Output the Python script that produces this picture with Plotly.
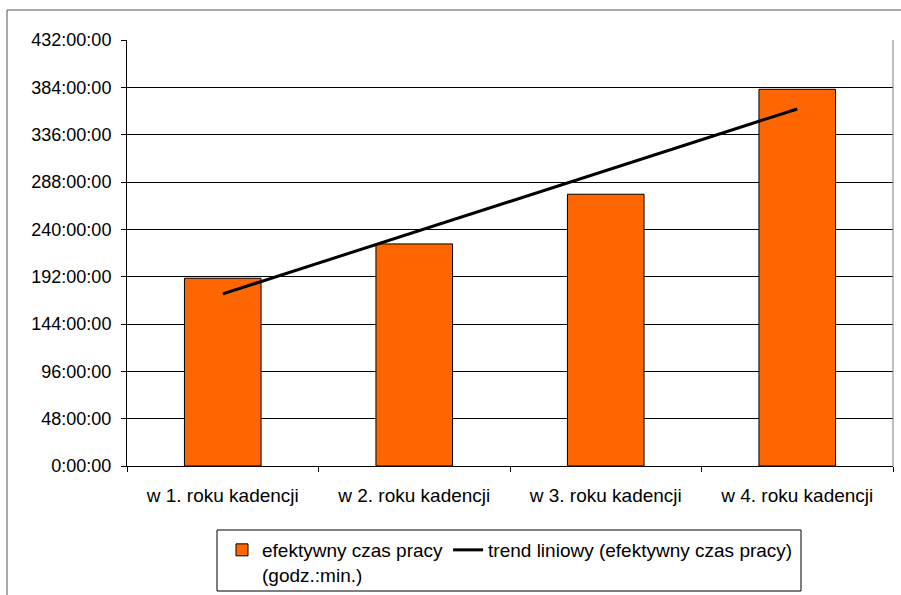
import numpy as np
import plotly.graph_objects as go

categories = ["w 1. roku kadencji", "w 2. roku kadencji", "w 3. roku kadencji", "w 4. roku kadencji"]
hours = [190.4, 225.2, 275.6, 382.0]  # efektywny czas pracy, in hours
tick_hours = [0, 48, 96, 144, 192, 240, 288, 336, 384, 432]
tick_labels = ["0:00:00", "48:00:00", "96:00:00", "144:00:00", "192:00:00",
               "240:00:00", "288:00:00", "336:00:00", "384:00:00", "432:00:00"]

# linear trend (Excel "trend liniowy")
xi = np.arange(1, len(hours) + 1)
slope, intercept = np.polyfit(xi, hours, 1)
trend = list(slope * xi + intercept)

W, H = 901, 595
L, R, T, B = 127, 893, 40, 466
pw, ph = R - L, B - T

def px(x):
    return (x - L) / pw

def py(y):
    return (B - y) / ph

FONT = "Liberation Sans, Arial, sans-serif"

fig = go.Figure()
fig.add_trace(go.Bar(
    x=categories, y=hours,
    name="efektywny czas pracy<br>(godz.:min.)",
    marker=dict(color="#FF6600", line=dict(color="#000000", width=1)),
))
fig.add_trace(go.Scatter(
    x=categories, y=trend, mode="lines",
    name="trend liniowy (efektywny czas pracy)",
    line=dict(color="#000000", width=3),
))

fig.update_layout(
    width=W, height=H,
    margin=dict(l=L, r=W - R, t=T, b=H - B, pad=0, autoexpand=False),
    paper_bgcolor="white", plot_bgcolor="white",
    font=dict(family=FONT, size=19, color="#000000"),
    bargap=0.6,
    showlegend=True,
    legend=dict(
        orientation="h", xref="container", yref="container",
        x=222 / W, y=1 - 531 / H, xanchor="left", yanchor="top",
        borderwidth=0, bgcolor="rgba(0,0,0,0)",
        font=dict(family=FONT, size=19, color="#000000"),
        valign="top", traceorder="normal",
    ),
    xaxis=dict(
        type="category", showgrid=False, showline=True, linecolor="#000000", linewidth=1,
        ticks="outside", tickson="boundaries", ticklen=5, tickcolor="#000000",
        ticklabelstandoff=12, zeroline=False, tickfont=dict(size=19),
    ),
    yaxis=dict(
        range=[0, 432], tickvals=tick_hours, ticktext=tick_labels,
        showgrid=True, gridcolor="#000000", gridwidth=1,
        showline=True, linecolor="#000000", linewidth=1,
        ticks="outside", ticklen=5, tickcolor="#000000",
        ticklabelstandoff=6, zeroline=False, tickfont=dict(size=18),
    ),
    shapes=[
        # plot area right border
        dict(type="line", xref="paper", yref="paper", x0=1, x1=1, y0=0, y1=1,
             line=dict(color="#808080", width=1)),
        # outer chart border
        dict(type="rect", xref="paper", yref="paper",
             x0=px(7), x1=px(W + 10), y0=py(10), y1=py(H + 10),
             line=dict(color="#555555", width=1), layer="above"),
        # legend frame
        dict(type="rect", xref="paper", yref="paper",
             x0=px(217), x1=px(801), y0=py(530), y1=py(591),
             line=dict(color="#000000", width=1), fillcolor="white", layer="below"),
    ],
)

fig.write_html("out.html", config={"displayModeBar": False},
               post_script="document.body.style.margin='0';")
